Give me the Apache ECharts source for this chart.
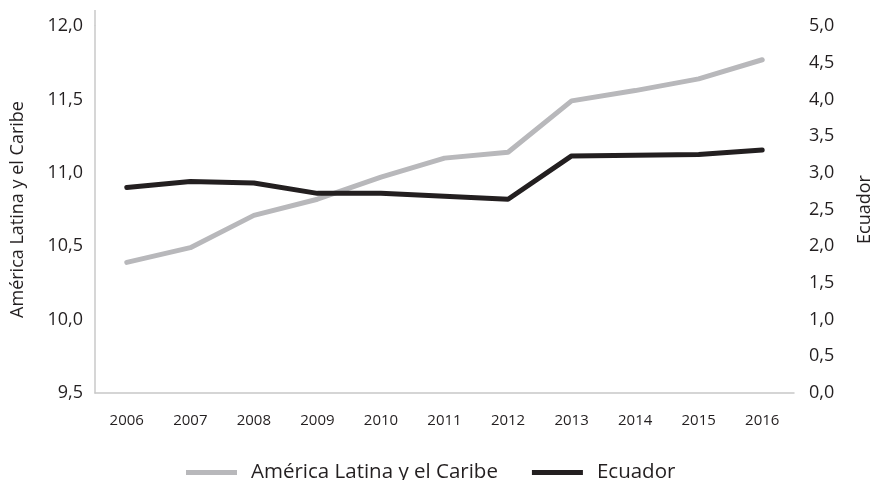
<!DOCTYPE html>
<html>
<head>
<meta charset="utf-8">
<script src="https://cdn.jsdelivr.net/npm/echarts@6/dist/echarts.min.js"></script>
<style>html,body{margin:0;padding:0;background:#fff}#c{width:872px;height:480px}</style>
</head>
<body>
<div id="c"></div>
<script>
var years = ['2006','2007','2008','2009','2010','2011','2012','2013','2014','2015','2016'];
var alcValues = [10.39, 10.49, 10.71, 10.82, 10.97, 11.10, 11.14, 11.49, 11.56, 11.64, 11.77];
var ecuadorValues = [2.80, 2.88, 2.86, 2.72, 2.72, 2.68, 2.64, 3.23, 3.24, 3.25, 3.31];
var leftName = 'América Latina y el Caribe';
var rightName = 'Ecuador';

var font = 'Open Sans';
var txt = '#231f20';
var chart = echarts.init(document.getElementById('c'));
function fmt(v){ return v.toFixed(1).replace('.', ','); }
chart.setOption({
  animation: false,
  textStyle: {fontFamily: font},
  grid: {left: 95, right: 78, top: 26, bottom: 87, containLabel: false, outerBoundsMode: 'none'},
  legend: {
    top: 457, left: 181,
    itemWidth: 51, itemHeight: 5, itemGap: 34,
    icon: 'rect',
    formatter: function(n){ return '{a|' + n + '}'; },
    textStyle: {fontFamily: font, fontSize: 20.5, color: txt,
      rich: {a: {fontFamily: font, fontSize: 20.5, color: txt, padding: [0, 0, 0, 9]}}},
    data: [leftName, rightName]
  },
  xAxis: {
    type: 'category', data: years, boundaryGap: true,
    axisLine: {lineStyle: {color: '#c8c8c8', width: 1.5}},
    axisTick: {show: false},
    axisLabel: {color: txt, fontSize: 15, margin: 20, fontFamily: font}
  },
  yAxis: [{
    type: 'value', min: 9.5, max: 12.0, interval: 0.5,
    name: leftName, nameLocation: 'middle', nameGap: 68, nameRotate: 90,
    nameTextStyle: {color: txt, fontSize: 18, fontFamily: font},
    axisLine: {show: true, lineStyle: {color: '#c8c8c8', width: 1.5}},
    axisTick: {show: false}, splitLine: {show: false},
    axisLabel: {color: txt, fontSize: 18, margin: 12, formatter: fmt}
  }, {
    type: 'value', min: 0, max: 5.0, interval: 0.5,
    name: rightName, nameLocation: 'middle', nameGap: 62, nameRotate: 90,
    nameTextStyle: {color: txt, fontSize: 18, fontFamily: font},
    axisLine: {show: false}, axisTick: {show: false}, splitLine: {show: false},
    axisLabel: {color: txt, fontSize: 18, margin: 15, formatter: fmt}
  }],
  graphic: [{
    type: 'line', shape: {x1: 95, y1: 10, x2: 95, y2: 26},
    style: {stroke: '#c8c8c8', lineWidth: 1.5}
  }],
  series: [{
    name: leftName, type: 'line', yAxisIndex: 0, data: alcValues,
    symbol: 'none', lineStyle: {color: '#b8b8bb', width: 5, cap: 'round', join: 'round'},
    itemStyle: {color: '#b8b8bb'}
  }, {
    name: rightName, type: 'line', yAxisIndex: 1, data: ecuadorValues,
    symbol: 'none', lineStyle: {color: '#231f20', width: 5, cap: 'round', join: 'round'},
    itemStyle: {color: '#231f20'}
  }]
});
</script>
</body>
</html>
